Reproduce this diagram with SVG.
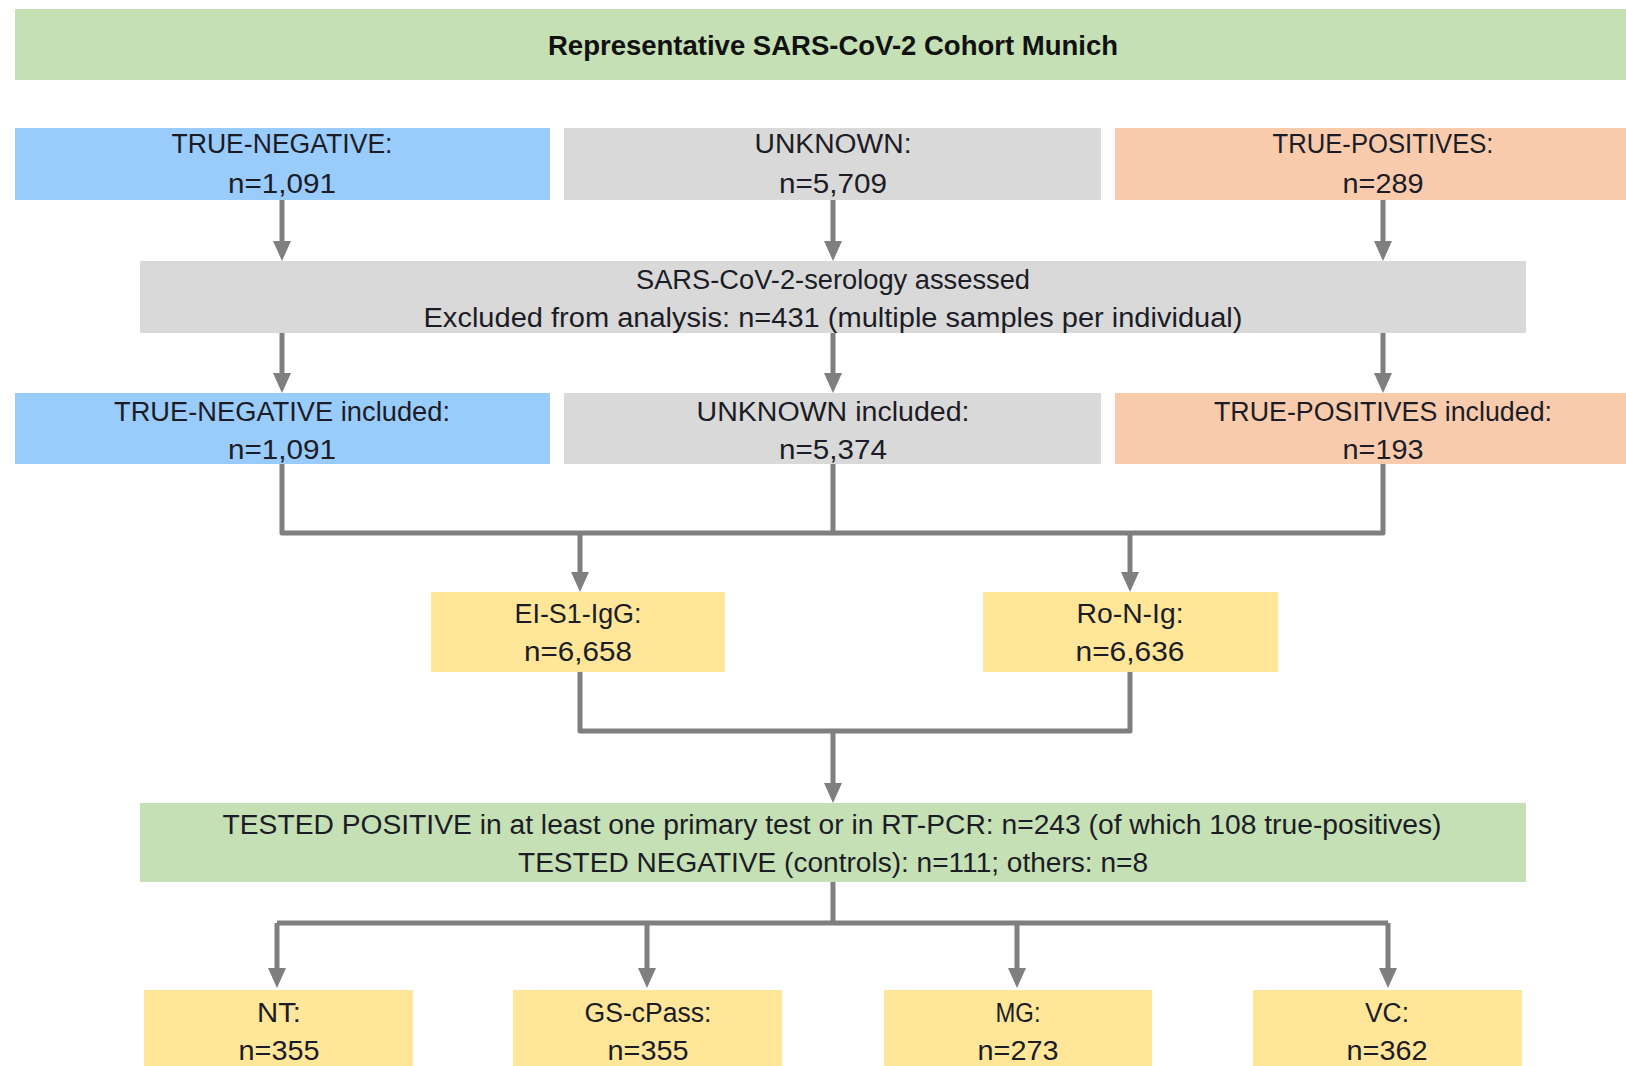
<svg xmlns="http://www.w3.org/2000/svg" width="1626" height="1066" viewBox="0 0 1626 1066">
<style>
  text { font-family: "Liberation Sans", Arial, sans-serif; font-size: 27px; fill: #1c1c26; text-anchor: middle; }
  .title { font-weight: bold; font-size: 27px; fill: #111; }
  .green { fill: #C5E0B4; }
  .blue { fill: #99CBFB; }
  .gray { fill: #D9D9D9; }
  .orange { fill: #F8CBAD; }
  .yellow { fill: #FFE699; }
  .conn { fill: none; stroke: #7F7F7F; stroke-width: 5; stroke-linejoin: round; }
  .arr { marker-end: url(#ah); }
</style>
<defs>
  <marker id="ah" markerUnits="userSpaceOnUse" markerWidth="20" markerHeight="18" refX="9" refY="9" orient="auto">
    <path d="M0,0 L20,9 L0,18 z" fill="#7F7F7F"/>
  </marker>
</defs>
<rect width="1626" height="1066" fill="#ffffff"/>

<g id="connectors">
  <path class="conn arr" d="M282,200 V250"/>
  <path class="conn arr" d="M833,200 V250"/>
  <path class="conn arr" d="M1383,200 V250"/>
  <path class="conn arr" d="M282,333 V382"/>
  <path class="conn arr" d="M833,333 V382"/>
  <path class="conn arr" d="M1383,333 V382"/>
  <path class="conn" d="M282,464 V533 H1383 V464"/>
  <path class="conn" d="M833,464 V533"/>
  <path class="conn arr" d="M580,533 V581"/>
  <path class="conn arr" d="M1130,533 V581"/>
  <path class="conn" d="M580,672 V731 H1130 V672"/>
  <path class="conn arr" d="M833,731 V792"/>
  <path class="conn" d="M833,882 V923"/>
  <path class="conn" d="M277,923 H1388"/>
  <path class="conn arr" d="M277,923 V977"/>
  <path class="conn arr" d="M647,923 V977"/>
  <path class="conn arr" d="M1017,923 V977"/>
  <path class="conn arr" d="M1388,923 V977"/>
</g>

<g id="title">
  <rect class="green" x="15" y="9" width="1611" height="71"/>
  <text class="title" x="833" y="55" textLength="570" lengthAdjust="spacingAndGlyphs">Representative SARS-CoV-2 Cohort Munich</text>
</g>

<g id="true-negative">
  <rect class="blue" x="15" y="128" width="535" height="72"/>
  <text x="282" y="153" textLength="221" lengthAdjust="spacingAndGlyphs">TRUE-NEGATIVE:</text>
  <text x="282" y="193" textLength="108" lengthAdjust="spacingAndGlyphs">n=1,091</text>
</g>
<g id="unknown">
  <rect class="gray" x="564" y="128" width="537" height="72"/>
  <text x="833" y="153" textLength="157" lengthAdjust="spacingAndGlyphs">UNKNOWN:</text>
  <text x="833" y="193" textLength="108" lengthAdjust="spacingAndGlyphs">n=5,709</text>
</g>
<g id="true-positives">
  <rect class="orange" x="1115" y="128" width="536" height="72"/>
  <text x="1383" y="153" textLength="221" lengthAdjust="spacingAndGlyphs">TRUE-POSITIVES:</text>
  <text x="1383" y="193" textLength="81" lengthAdjust="spacingAndGlyphs">n=289</text>
</g>

<g id="serology">
  <rect class="gray" x="140" y="261" width="1386" height="72"/>
  <text x="833" y="289" textLength="394" lengthAdjust="spacingAndGlyphs">SARS-CoV-2-serology assessed</text>
  <text x="833" y="327" textLength="819" lengthAdjust="spacingAndGlyphs">Excluded from analysis: n=431 (multiple samples per individual)</text>
</g>

<g id="true-negative-included">
  <rect class="blue" x="15" y="393" width="535" height="71"/>
  <text x="282" y="421" textLength="336" lengthAdjust="spacingAndGlyphs">TRUE-NEGATIVE included:</text>
  <text x="282" y="459" textLength="108" lengthAdjust="spacingAndGlyphs">n=1,091</text>
</g>
<g id="unknown-included">
  <rect class="gray" x="564" y="393" width="537" height="71"/>
  <text x="833" y="421" textLength="273" lengthAdjust="spacingAndGlyphs">UNKNOWN included:</text>
  <text x="833" y="459" textLength="108" lengthAdjust="spacingAndGlyphs">n=5,374</text>
</g>
<g id="true-positives-included">
  <rect class="orange" x="1115" y="393" width="536" height="71"/>
  <text x="1383" y="421" textLength="338" lengthAdjust="spacingAndGlyphs">TRUE-POSITIVES included:</text>
  <text x="1383" y="459" textLength="81" lengthAdjust="spacingAndGlyphs">n=193</text>
</g>

<g id="ei-s1-igg">
  <rect class="yellow" x="431" y="592" width="294" height="80"/>
  <text x="578" y="623" textLength="127" lengthAdjust="spacingAndGlyphs">EI-S1-IgG:</text>
  <text x="578" y="661" textLength="108" lengthAdjust="spacingAndGlyphs">n=6,658</text>
</g>
<g id="ro-n-ig">
  <rect class="yellow" x="983" y="592" width="295" height="80"/>
  <text x="1130" y="623" textLength="107" lengthAdjust="spacingAndGlyphs">Ro-N-Ig:</text>
  <text x="1130" y="661" textLength="109" lengthAdjust="spacingAndGlyphs">n=6,636</text>
</g>

<g id="tested">
  <rect class="green" x="140" y="803" width="1386" height="79"/>
  <text x="832" y="834" textLength="1219" lengthAdjust="spacingAndGlyphs">TESTED POSITIVE in at least one primary test or in RT-PCR: n=243 (of which 108 true-positives)</text>
  <text x="833" y="872" textLength="630" lengthAdjust="spacingAndGlyphs">TESTED NEGATIVE (controls): n=111; others: n=8</text>
</g>

<g id="nt">
  <rect class="yellow" x="144" y="990" width="269" height="80"/>
  <text x="279" y="1022" textLength="44" lengthAdjust="spacingAndGlyphs">NT:</text>
  <text x="279" y="1060" textLength="81" lengthAdjust="spacingAndGlyphs">n=355</text>
</g>
<g id="gs-cpass">
  <rect class="yellow" x="513" y="990" width="269" height="80"/>
  <text x="648" y="1022" textLength="127" lengthAdjust="spacingAndGlyphs">GS-cPass:</text>
  <text x="648" y="1060" textLength="81" lengthAdjust="spacingAndGlyphs">n=355</text>
</g>
<g id="mg">
  <rect class="yellow" x="884" y="990" width="268" height="80"/>
  <text x="1018" y="1022" textLength="45" lengthAdjust="spacingAndGlyphs">MG:</text>
  <text x="1018" y="1060" textLength="81" lengthAdjust="spacingAndGlyphs">n=273</text>
</g>
<g id="vc">
  <rect class="yellow" x="1253" y="990" width="269" height="80"/>
  <text x="1387" y="1022" textLength="44" lengthAdjust="spacingAndGlyphs">VC:</text>
  <text x="1387" y="1060" textLength="81" lengthAdjust="spacingAndGlyphs">n=362</text>
</g>
</svg>
